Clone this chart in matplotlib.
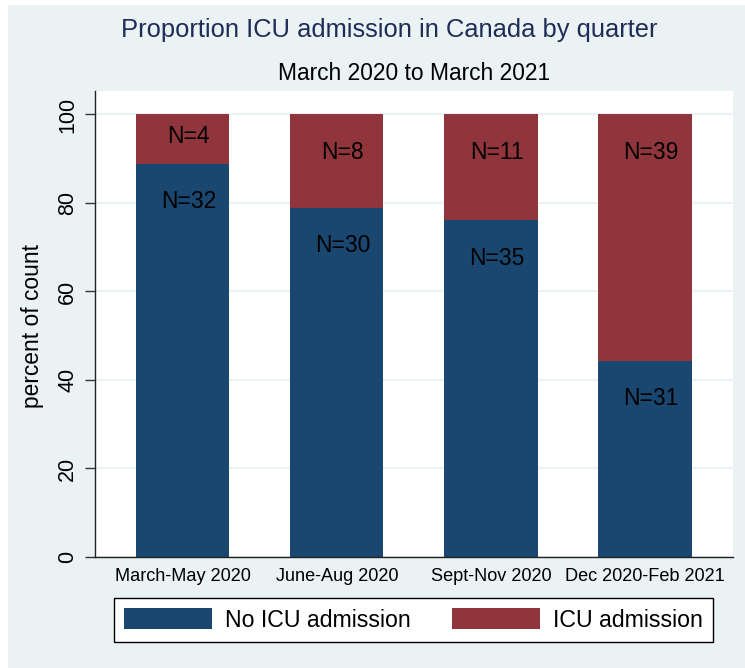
import matplotlib
matplotlib.use('Agg')
import matplotlib.pyplot as plt
import numpy as np
from matplotlib.patches import Rectangle

plt.rcParams['font.family'] = ['Liberation Sans', 'DejaVu Sans']

# ---- data ----
quarters = ['March-May 2020', 'June-Aug 2020', 'Sept-Nov 2020', 'Dec 2020-Feb 2021']
no_icu = [32, 30, 35, 31]
icu = [4, 8, 11, 39]
series_names = ['No ICU admission', 'ICU admission']
title = 'Proportion ICU admission in Canada by quarter'
subtitle = 'March 2020 to March 2021'
yticks = [0, 20, 40, 60, 80, 100]

NAVY = '#1A476F'
MAROON = '#90353B'
TITLE_C = '#1E2C58'
BG = '#EAF2F3'

W, H = 745, 668
fig = plt.figure(figsize=(W / 100, H / 100), dpi=100)
fig.patch.set_facecolor('white')
bg_ax = fig.add_axes([0, 0, 1, 1], zorder=0)
bg_ax.axis('off')
bg_ax.set_xlim(0, W)
bg_ax.set_ylim(H, 0)
bg_ax.add_patch(Rectangle((8, 5), W - 8, H - 5, facecolor=BG, edgecolor='none'))

ax = fig.add_axes([95 / W, 1 - 557 / H, (733 - 95) / W, (557 - 91) / H], zorder=2)
ax.set_facecolor('white')

no_arr = np.array(no_icu, dtype=float)
icu_arr = np.array(icu, dtype=float)
tot = no_arr + icu_arr
p_no = 100 * no_arr / tot
p_icu = 100 * icu_arr / tot
x = np.arange(len(quarters))
bw = 0.606
ax.bar(x, p_no, width=bw, color=NAVY, zorder=2, label=series_names[0])
ax.bar(x, p_icu, bottom=p_no, width=bw, color=MAROON, zorder=2, label=series_names[1])

for i in range(len(x)):
    for bottom, height, n in ((0, p_no[i], no_icu[i]), (p_no[i], p_icu[i], icu[i])):
        top = bottom + height
        off = min(8.0, 0.4 * height)
        ax.annotate(f'N={n}', (x[i], top - off), xytext=(4.3, 0), textcoords='offset points',
                    ha='center', va='center_baseline', fontsize=16.5, color='black', zorder=3)

ax.set_xlim(-0.569, 3.571)
ax.set_ylim(0, 105.3)
ax.set_yticks(yticks)
ax.set_yticklabels([str(t) for t in yticks], rotation=90, va='center')
ax.set_xticks(x)
ax.set_xticklabels(quarters, fontsize=13.1)
ax.tick_params(axis='x', length=0, pad=8)
ax.tick_params(axis='y', length=7, width=1, pad=5, labelsize=15.5, color='#333333')
ax.grid(axis='y', color=BG, lw=1.5, zorder=0)
ax.set_axisbelow(True)
for s in ('top', 'right'):
    ax.spines[s].set_visible(False)
for s in ('left', 'bottom'):
    ax.spines[s].set_color('#222222')
    ax.spines[s].set_linewidth(1)

fig.text(33 / W, 1 - 326 / H, 'percent of count', rotation=90, ha='center', va='center', fontsize=16.4)
fig.text(389 / W, 1 - 30 / H, title, ha='center', va='center', fontsize=18.4, color=TITLE_C)
fig.text(414.5 / W, 1 - 73 / H, subtitle, ha='center', va='center', fontsize=16.4, color='black')

leg = fig.legend(loc='center', bbox_to_anchor=(413.5 / W, 1 - 620 / H), ncol=2, fontsize=16.7,
                 frameon=True, fancybox=False, shadow=False, handlelength=3.78, handleheight=1.0,
                 handletextpad=0.56, columnspacing=1.78, borderpad=0.43, framealpha=1)
leg.get_frame().set_edgecolor('black')
leg.get_frame().set_linewidth(1)
leg.get_frame().set_facecolor('white')
leg.set_zorder(5)

fig.savefig('out.png', dpi=100, facecolor=fig.get_facecolor())
